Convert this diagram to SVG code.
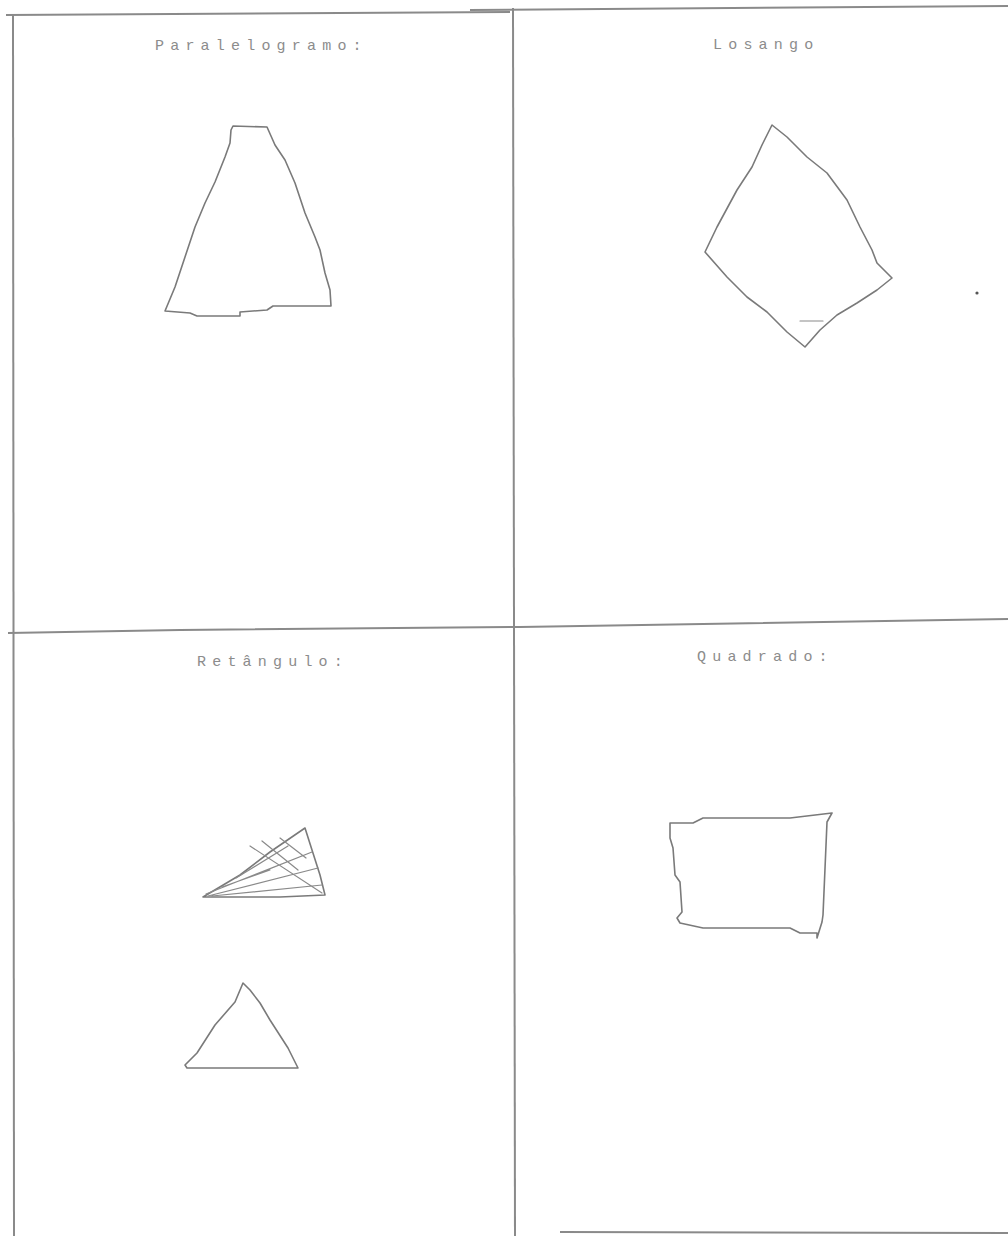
<svg xmlns="http://www.w3.org/2000/svg" width="1008" height="1236" viewBox="0 0 1008 1236">
<style>
.frame{fill:none;stroke:#8a8a8a;stroke-width:2}
.shape{fill:none;stroke:#7a7a7a;stroke-width:1.6;stroke-linejoin:round;stroke-linecap:round}
.hatch{fill:none;stroke:#8a8a8a;stroke-width:1.2;stroke-linecap:round}
.lbl{font-family:"Liberation Mono",monospace;font-size:15px;fill:#8c8c8c;letter-spacing:6.2px}
</style>
<rect width="1008" height="1236" fill="#ffffff"/>
<g id="frame">
<path class="frame" d="M6 15 L510 12"/>
<path class="frame" d="M470 10 L1008 6"/>
<path class="frame" d="M13 15 L14 1236"/>
<path class="frame" d="M513 8 L515 1236"/>
<path class="frame" d="M8 633 L180 630 L520 627 L1008 619"/>
<path class="frame" d="M560 1232 L1008 1233"/>
</g>
<g id="paralelogramo">
<text class="lbl" x="155" y="50">Paralelogramo:</text>
<path class="shape" d="M233 126 L267 127 L275 145 L285 160 L295 183 L305 213 L315 237 L320 250 L325 273 L330 290 L331 306 L273 306 L267 310 L240 312 L240 316 L197 316 L190 313 L165 311 L175 287 L185 257 L195 227 L205 203 L215 182 L225 157 L230 143 L231 130 Z"/>
</g>
<g id="losango">
<text class="lbl" x="713" y="49">Losango</text>
<path class="shape" d="M772 125 L787 137 L807 157 L827 173 L847 200 L860 227 L872 250 L877 263 L892 278 L877 290 L857 303 L837 315 L820 330 L805 347 L787 332 L767 312 L747 297 L727 277 L705 252 L717 227 L737 190 L752 167 L762 145 Z"/>
<path class="hatch" d="M800 321 L823 321"/>
<circle cx="977" cy="293" r="1.6" fill="#555"/>
</g>
<g id="retangulo">
<text class="lbl" x="197" y="666">Retângulo:</text>
<path class="shape" d="M203 897 L240 875 L270 852 L305 828 L312 850 L320 875 L325 895 L280 897 Z"/>
<path class="hatch" d="M206 894 L312 852 M208 896 L318 868 M212 896 L322 885 M250 846 L322 893 M262 841 L298 870 M280 838 L306 858 M236 878 L288 846 M222 887 L270 870"/>
<path class="shape" d="M243 983 L235 1002 L215 1025 L197 1053 L185 1065 L187 1068 L298 1068 L288 1048 L270 1020 L260 1003 L250 990 Z"/>
</g>
<g id="quadrado">
<text class="lbl" x="697" y="661">Quadrado:</text>
<path class="shape" d="M832 813 L790 818 L703 818 L693 823 L670 823 L670 838 L673 848 L675 875 L680 882 L682 912 L677 918 L680 923 L703 928 L790 928 L800 933 L817 933 L817 938 L822 922 L823 915 L827 822 Z"/>
</g>
</svg>
